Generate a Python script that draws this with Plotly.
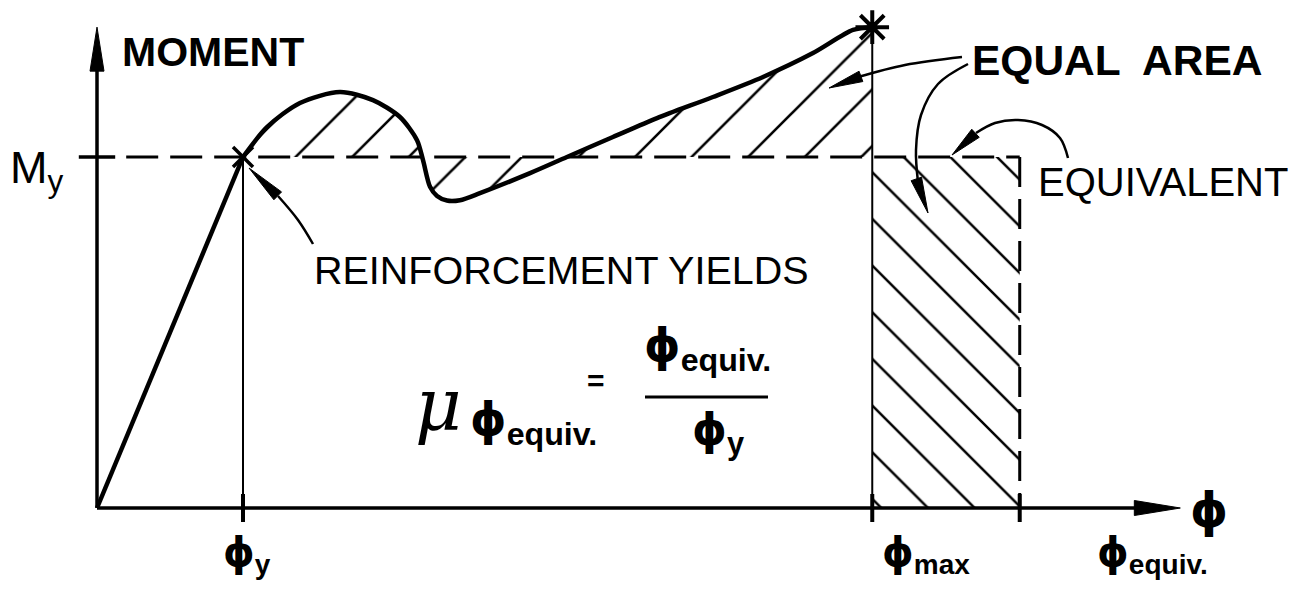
import math
import plotly.graph_objects as go

# ---------------- data (φ in units of φy, M in units of My) ----------------
phi_rise = [0.0, 1.0]
m_rise = [0.0, 1.0]
phi_post = [1.0, 1.164, 1.390, 1.664, 1.890, 2.075, 2.192, 2.233, 2.281, 2.329,
            2.397, 2.486, 2.623, 2.966, 3.219, 3.534, 3.836, 4.219, 4.562,
            4.904, 5.178, 5.31]
m_post = [1.0, 1.085, 1.154, 1.185, 1.162, 1.114, 1.048, 0.991, 0.915, 0.889,
          0.876, 0.877, 0.897, 0.954, 1.0, 1.057, 1.111, 1.171, 1.228,
          1.296, 1.362, 1.37]

PHI_Y = 1.0
PHI_MAX = 5.31
PHI_EQUIV = 6.32
M_Y = 1.0
M_MAX = 1.37
PHI_AXIS_END = 7.42
M_AXIS_END = 1.37

tick_phis = [PHI_Y, PHI_MAX, PHI_EQUIV]
tick_subs = ["y", "max", "equiv."]

# ---------------- pixel <-> data helpers (layout only) ----------------
W, H = 1316, 590
X0_PX, Y0_PX = 97, 508
PX_PER_PHI, PX_PER_M = 146.0, 351.0


def fx(px):
    return (px - X0_PX) / PX_PER_PHI


def fy(py):
    return (Y0_PX - py) / PX_PER_M


def px_of(phi):
    return X0_PX + phi * PX_PER_PHI


def py_of(m):
    return Y0_PX - m * PX_PER_M


BLACK = "#000000"
FONT = "Liberation Sans, Arial, sans-serif"

fig = go.Figure()

# region between curve and My (hatched "/")
fig.add_trace(go.Scatter(x=[PHI_Y, PHI_MAX], y=[M_Y, M_Y], mode="lines",
                         line=dict(width=0, color="rgba(0,0,0,0)"), hoverinfo="skip"))
fig.add_trace(go.Scatter(x=phi_post, y=m_post, mode="lines",
                         line=dict(width=0, color="rgba(0,0,0,0)", shape="spline", smoothing=0.8),
                         fill="tonexty", fillcolor="rgba(0,0,0,0)",
                         fillpattern=dict(shape="/", size=40, solidity=0.065, fgopacity=1,
                                          fgcolor=BLACK, bgcolor="rgba(0,0,0,0)", fillmode="overlay"),
                         hoverinfo="skip"))

# equivalent rectangle (hatched "\")
fig.add_trace(go.Scatter(x=[PHI_MAX, PHI_EQUIV, PHI_EQUIV, PHI_MAX, PHI_MAX],
                         y=[0, 0, M_Y, M_Y, 0], mode="lines",
                         line=dict(width=0, color="rgba(0,0,0,0)"),
                         fill="toself", fillcolor="rgba(0,0,0,0)",
                         fillpattern=dict(shape="\\", size=33, solidity=0.075, fgopacity=1,
                                          fgcolor=BLACK, bgcolor="rgba(0,0,0,0)", fillmode="overlay"),
                         hoverinfo="skip"))

# dashed My line and dashed equivalent edge
fig.add_trace(go.Scatter(x=[0.2, PHI_EQUIV], y=[M_Y, M_Y], mode="lines",
                         line=dict(width=3, color=BLACK, dash="32px,12px")))
fig.add_trace(go.Scatter(x=[PHI_EQUIV, PHI_EQUIV], y=[M_Y, 0], mode="lines",
                         line=dict(width=3, color=BLACK, dash="30px,12px")))

# thin verticals at φy and φmax
fig.add_trace(go.Scatter(x=[PHI_Y, PHI_Y], y=[0, M_Y], mode="lines",
                         line=dict(width=2, color=BLACK)))
fig.add_trace(go.Scatter(x=[PHI_MAX, PHI_MAX], y=[0, M_MAX], mode="lines",
                         line=dict(width=2, color=BLACK)))

# axes
fig.add_trace(go.Scatter(x=[0, PHI_AXIS_END - 0.2], y=[0, 0], mode="lines",
                         line=dict(width=3.5, color=BLACK)))
fig.add_trace(go.Scatter(x=[0, 0], y=[0, M_AXIS_END - 0.08], mode="lines",
                         line=dict(width=3.5, color=BLACK)))

# moment-curvature curve
fig.add_trace(go.Scatter(x=phi_rise, y=m_rise, mode="lines",
                         line=dict(width=4.5, color=BLACK)))
fig.add_trace(go.Scatter(x=phi_post, y=m_post, mode="lines",
                         line=dict(width=4.5, color=BLACK, shape="spline", smoothing=0.8)))

# ticks on axes
fig.add_trace(go.Scatter(x=tick_phis, y=[0] * len(tick_phis), mode="markers",
                         marker=dict(symbol="line-ns", size=20,
                                     line=dict(width=4, color=BLACK))))
fig.add_trace(go.Scatter(x=[0], y=[M_Y], mode="markers",
                         marker=dict(symbol="line-ew", size=26,
                                     line=dict(width=3.5, color=BLACK))))

# yield point (x) and max point (asterisk)
fig.add_trace(go.Scatter(x=[PHI_Y], y=[M_Y], mode="markers",
                         marker=dict(symbol="x-thin", size=20,
                                     line=dict(width=3.5, color=BLACK))))
fig.add_trace(go.Scatter(x=[PHI_MAX], y=[M_MAX], mode="markers",
                         marker=dict(symbol="asterisk", size=28,
                                     line=dict(width=4, color=BLACK))))


# ---------------- arrowheads & leader lines (decoration) ----------------
def add_head(tip, back, length, width):
    """filled triangular arrowhead; tip and back are pixel points, head points from back to tip"""
    dx, dy = tip[0] - back[0], tip[1] - back[1]
    d = math.hypot(dx, dy)
    ux, uy = dx / d, dy / d
    bx, by = tip[0] - ux * length, tip[1] - uy * length
    nx, ny = -uy, ux
    pts = [tip, (bx + nx * width / 2, by + ny * width / 2),
           (bx - nx * width / 2, by - ny * width / 2), tip]
    fig.add_trace(go.Scatter(x=[fx(p[0]) for p in pts], y=[fy(p[1]) for p in pts],
                             mode="lines", fill="toself", fillcolor=BLACK,
                             line=dict(width=1, color=BLACK), hoverinfo="skip"))


def add_leader(points, width=2.5):
    fig.add_trace(go.Scatter(x=[fx(p[0]) for p in points], y=[fy(p[1]) for p in points],
                             mode="lines", line=dict(width=width, color=BLACK, shape="spline"),
                             hoverinfo="skip"))


# axis arrowheads
add_head((px_of(PHI_AXIS_END), py_of(0)), (px_of(0), py_of(0)), 46, 15)
add_head((px_of(0), py_of(M_AXIS_END)), (px_of(0), py_of(0)), 44, 14)

# REINFORCEMENT YIELDS -> yield point
add_leader([(313, 244), (298, 220), (278, 196)])
add_head((249, 168), (282, 200), 40, 11)
# EQUAL AREA -> upper hatched area
add_leader([(962, 57), (905, 65), (858, 77)])
add_head((829, 88), (862, 76), 34, 11)
# EQUAL AREA -> equivalent rectangle
add_leader([(968, 64), (938, 84), (921, 115), (916, 150), (918, 182)])
add_head((928, 213), (916, 178), 36, 11)
# EQUIVALENT -> dashed corner
add_leader([(1068, 158), (1060, 138), (1042, 125), (1018, 120), (995, 123), (976, 133)])
add_head((952, 155), (978, 131), 32, 11)

annotations = []


def phi_text(sub):
    s = "<span style='font-family:DejaVu Sans'>ϕ</span>"
    if sub:
        s += "<sub>" + sub + "</sub>"
    return "<b>" + s + "</b>"


# tick labels under the φ axis
label_px = [247, 926, 1152]
for sub, lx in zip(tick_subs, label_px):
    annotations.append(dict(x=fx(lx), y=fy(554), xref="x", yref="y", text=phi_text(sub),
                            showarrow=False, font=dict(size=40, color=BLACK, family=FONT),
                            xanchor="center", yanchor="middle"))

# axis titles
annotations.append(dict(x=fx(1209), y=fy(510), xref="x", yref="y", text=phi_text(None),
                        showarrow=False, font=dict(size=48, color=BLACK, family=FONT)))
annotations.append(dict(x=fx(120), y=fy(52), xref="x", yref="y", text="<b>MOMENT</b>",
                        showarrow=False, xanchor="left",
                        font=dict(size=41, color=BLACK, family=FONT)))
annotations.append(dict(x=fx(8), y=fy(170), xref="x", yref="y", text="M<sub>y</sub>",
                        showarrow=False, xanchor="left",
                        font=dict(size=45, color=BLACK, family=FONT)))

# labels
annotations.append(dict(x=fx(312), y=fy(270), xref="x", yref="y", text="REINFORCEMENT YIELDS",
                        showarrow=False, xanchor="left",
                        font=dict(size=39.5, color=BLACK, family=FONT)))
annotations.append(dict(x=fx(970), y=fy(60), xref="x", yref="y", text="<b>EQUAL  AREA</b>",
                        showarrow=False, xanchor="left",
                        font=dict(size=42.5, color=BLACK, family=FONT)))
annotations.append(dict(x=fx(1036), y=fy(182), xref="x", yref="y", text="EQUIVALENT",
                        showarrow=False, xanchor="left",
                        font=dict(size=40, color=BLACK, family=FONT)))

# ductility formula
annotations.append(dict(x=fx(438), y=fy(405), xref="x", yref="y", text="<i>μ</i>",
                        showarrow=False, font=dict(size=72, color=BLACK, family="DejaVu Serif, serif")))
annotations.append(dict(x=fx(468), y=fy(422), xref="x", yref="y", text=phi_text("equiv."),
                        showarrow=False, xanchor="left",
                        font=dict(size=46, color=BLACK, family=FONT)))
annotations.append(dict(x=fx(596), y=fy(380), xref="x", yref="y", text="<b>=</b>",
                        showarrow=False, font=dict(size=30, color=BLACK, family=FONT)))
annotations.append(dict(x=fx(707), y=fy(348), xref="x", yref="y", text=phi_text("equiv."),
                        showarrow=False, font=dict(size=46, color=BLACK, family=FONT)))
annotations.append(dict(x=fx(718), y=fy(432), xref="x", yref="y", text=phi_text("y"),
                        showarrow=False, font=dict(size=44, color=BLACK, family=FONT)))

shapes = [
    # fraction bar
    dict(type="line", xref="x", yref="y", x0=fx(645), x1=fx(768), y0=fy(397), y1=fy(397),
         line=dict(width=3, color=BLACK)),
]

fig.update_layout(
    width=W, height=H,
    margin=dict(l=0, r=0, t=0, b=0),
    paper_bgcolor="white", plot_bgcolor="white",
    showlegend=False,
    xaxis=dict(range=[fx(0), fx(W)], visible=False, fixedrange=True),
    yaxis=dict(range=[fy(H), fy(0)], visible=False, fixedrange=True),
    annotations=annotations,
    shapes=shapes,
)

fig.write_html("out.html", config={"displayModeBar": False},
               post_script="document.body.style.margin='0px';")
